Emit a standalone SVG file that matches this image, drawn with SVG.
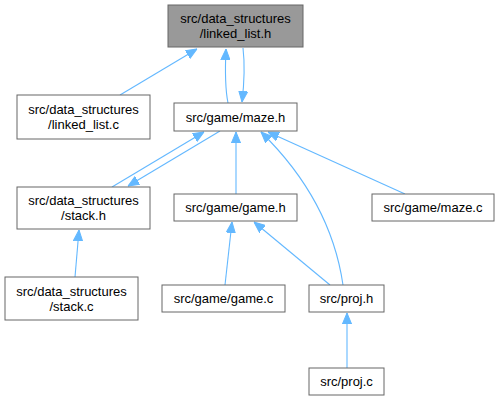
<svg xmlns="http://www.w3.org/2000/svg" width="500" height="400" viewBox="0 0 500 400">
<style>
.box{fill:#fff;stroke:#666;stroke-width:1}
.hl{fill:#999;stroke:#666;stroke-width:1}
text{font-family:"Liberation Sans",Arial,sans-serif;font-size:13px;fill:#000;text-anchor:middle}
.e{fill:none;stroke:#63b8ff;stroke-width:1.1;marker-end:url(#ah)}
</style>
<defs>
<marker id="ah" viewBox="0 -5 11 10" markerWidth="11" markerHeight="10" refX="11" refY="0" orient="auto" markerUnits="userSpaceOnUse">
<path d="M0,-4.6 L11,0 L0,4.6 z" fill="#63b8ff" stroke="#63b8ff" stroke-width="1"/>
</marker>
</defs>
<rect width="500" height="400" fill="#fff"/>
<g id="edges">
<path class="e" d="M120,95 L197,49"/>
<path class="e" d="M228,103 C225,88 225,70 226,49"/>
<path class="e" d="M243,48 C245,65 244,85 242,102"/>
<path class="e" d="M112,187 L204,132"/>
<path class="e" d="M220,131 L128,186"/>
<path class="e" d="M236,194 L236,132"/>
<path class="e" d="M343,285 C335,230 310,180 261,132"/>
<path class="e" d="M405,194 L268,132"/>
<path class="e" d="M225,285 L232,222"/>
<path class="e" d="M330,285 L254,222"/>
<path class="e" d="M347,368 L347,313"/>
<path class="e" d="M75,277 L79,230"/>
</g>
<g id="n_linked_list_h"><rect class="hl" x="168" y="5" width="135" height="42"/><text x="235.5" y="23">src/data_structures</text><text x="235.5" y="38">/linked_list.h</text></g>
<g id="n_linked_list_c"><rect class="box" x="17" y="95" width="133" height="44"/><text x="83.5" y="114">src/data_structures</text><text x="83.5" y="129">/linked_list.c</text></g>
<g id="n_maze_h"><rect class="box" x="174" y="103" width="123" height="28"/><text x="235.5" y="121.5">src/game/maze.h</text></g>
<g id="n_stack_h"><rect class="box" x="17" y="187" width="133" height="42"/><text x="83.5" y="205">src/data_structures</text><text x="83.5" y="220">/stack.h</text></g>
<g id="n_stack_c"><rect class="box" x="5" y="277" width="133" height="43"/><text x="71.5" y="295.5">src/data_structures</text><text x="71.5" y="310.5">/stack.c</text></g>
<g id="n_game_h"><rect class="box" x="174" y="194" width="123" height="27"/><text x="235.5" y="212">src/game/game.h</text></g>
<g id="n_maze_c"><rect class="box" x="372" y="194" width="122" height="27"/><text x="433" y="212">src/game/maze.c</text></g>
<g id="n_game_c"><rect class="box" x="162" y="285" width="123" height="27"/><text x="223.5" y="303">src/game/game.c</text></g>
<g id="n_proj_h"><rect class="box" x="309" y="285" width="75" height="27"/><text x="346.5" y="303">src/proj.h</text></g>
<g id="n_proj_c"><rect class="box" x="309" y="368" width="75" height="27"/><text x="346.5" y="386">src/proj.c</text></g>
</svg>
